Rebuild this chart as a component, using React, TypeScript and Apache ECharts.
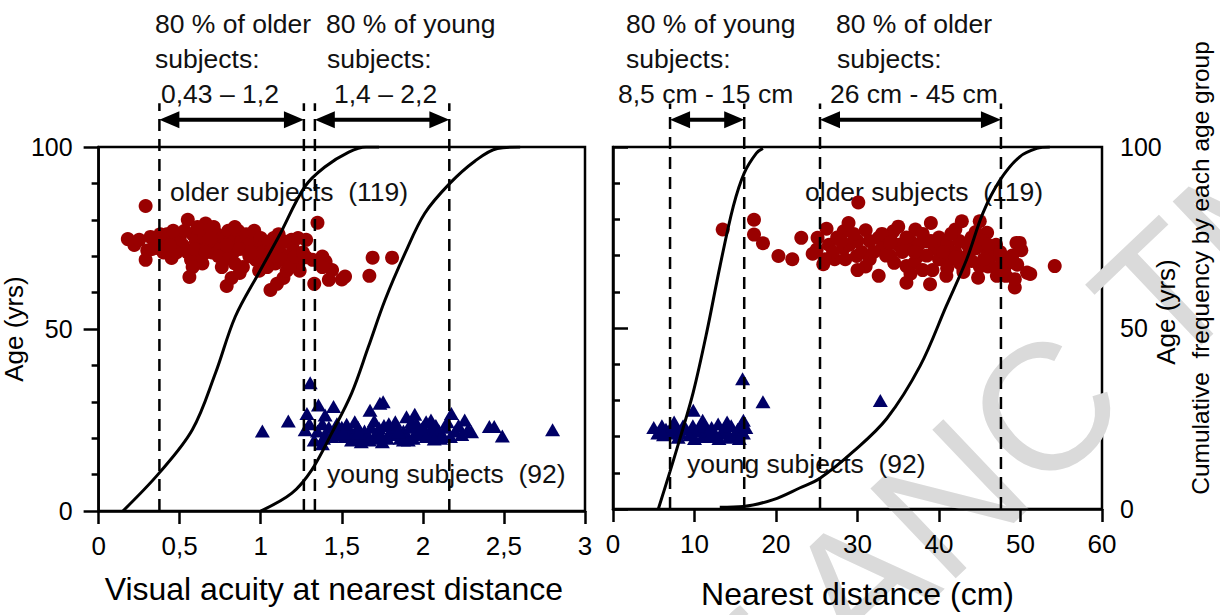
import React, { useEffect, useRef } from "react";
import * as echarts from "echarts";

// ---------- DATA ----------
// Left panel: visual acuity at nearest distance vs age
const olderVA: [number, number][] = [
  [0.29, 83.8], [0.18, 74.7], [0.22, 73.1], [0.25, 74.5], [0.32, 75.3], [0.29, 69], [0.3, 71.6], [0.37, 72.2],
  [0.43, 74], [0.45, 69.5], [0.5, 72.7], [0.55, 80], [0.66, 79], [0.56, 64.3], [0.79, 61.8], [0.82, 64],
  [0.87, 65.4], [1.06, 60.7], [1.1, 62.4], [1.14, 64], [1.33, 62.4], [1.42, 63.5], [1.52, 64.4], [1.5, 63.6],
  [1.67, 64.6], [1.69, 69.6], [1.81, 69.6], [1.35, 79.2], [1.19, 74.5], [1.28, 74.5], [1.28, 69.7], [1.32, 69],
  [1.38, 69.9], [1.4, 68.5], [1.44, 66.2], [1.38, 67],
  [0.5, 75], [0.52, 73], [0.55, 71], [0.58, 76], [0.6, 74], [0.62, 72], [0.63, 70], [0.65, 75], [0.67, 77],
  [0.68, 73], [0.7, 71], [0.72, 74], [0.73, 76], [0.75, 72], [0.77, 69], [0.78, 75], [0.8, 77], [0.82, 73],
  [0.83, 71], [0.85, 75], [0.86, 77], [0.88, 74], [0.9, 72], [0.91, 76], [0.93, 70], [0.95, 74], [0.96, 77],
  [0.98, 72], [1.0, 75], [1.02, 73], [1.03, 70], [1.05, 74], [1.07, 72], [1.09, 68], [1.1, 73], [1.12, 71],
  [1.15, 74], [1.17, 70], [1.2, 72], [1.22, 68], [1.24, 66], [0.4, 71], [0.42, 76], [0.47, 74], [0.48, 71],
  [0.57, 69], [0.61, 78], [0.64, 68], [0.71, 78], [0.74, 70], [0.76, 67], [0.81, 70], [0.84, 68], [0.89, 67],
  [0.92, 73], [0.97, 69], [0.99, 66], [1.01, 71], [1.04, 67], [1.08, 75], [1.13, 69], [1.16, 66], [1.18, 67],
  [1.21, 70], [1.26, 71], [0.35, 74], [0.38, 76], [0.44, 73], [0.53, 77], [0.59, 72], [0.69, 75], [0.79, 73],
  [0.87, 72], [0.94, 71], [1.06, 71], [1.11, 76], [0.33, 72], [0.58, 67], [0.66, 71], [0.46, 77], [0.84, 78],
  [1.23, 75]
];
const youngVA: [number, number][] = [
  [1.01, 22], [1.17, 24.7], [1.305, 35.2], [1.285, 26.8], [1.356, 29.1], [1.449, 28.7], [1.397, 26.4],
  [1.274, 22.3], [1.38, 24], [1.387, 20], [1.674, 27.7], [1.735, 29.6], [1.755, 30], [1.899, 25.9], [1.95, 26.6],
  [2.176, 26.8], [2.258, 25], [2.41, 23.2], [2.44, 23.2], [2.49, 20.6], [2.8, 22.3], [2.3, 21.8],
  [1.45, 22], [1.48, 21], [1.5, 23], [1.52, 20.5], [1.55, 22], [1.57, 21], [1.6, 23], [1.62, 20], [1.64, 22],
  [1.66, 21], [1.68, 23], [1.7, 20], [1.72, 22], [1.74, 21], [1.76, 23.5], [1.78, 20], [1.8, 22], [1.82, 21],
  [1.84, 23], [1.86, 20], [1.88, 22], [1.9, 21], [1.92, 23], [1.94, 20], [1.96, 22], [1.98, 21], [2.0, 23],
  [2.02, 20.5], [2.04, 22], [2.06, 21], [2.08, 23.5], [2.1, 22], [2.12, 21], [2.14, 23], [2.2, 22], [2.24, 21],
  [2.28, 22.5], [1.35, 22], [1.4, 21], [1.33, 19.5], [1.42, 23], [1.58, 24.5], [1.7, 24.8], [1.83, 24.5],
  [1.96, 24.2], [2.05, 25], [2.15, 24.5], [1.53, 23.8], [1.38, 18.5], [1.3, 24], [1.62, 19], [1.75, 19],
  [1.88, 19.5], [1.93, 24.5], [2.02, 24.5], [1.47, 24], [1.56, 19.5], [1.67, 19.5], [1.79, 24], [1.91, 19.5],
  [2.07, 19.8], [2.17, 20.5], [2.22, 23.5], [1.6, 21.5], [1.73, 22.8], [1.85, 21.8], [1.99, 22.5], [2.11, 20],
  [1.44, 20.5], [1.51, 21.5]
];
// Cumulative frequency curves (left panel)
const cumOlderVA: [number, number][] = [
  [0.15, 0], [0.373, 10.4], [0.578, 22.3], [0.721, 37.9], [0.842, 53.3], [0.988, 65.4], [1.111, 75.4],
  [1.272, 89.1], [1.395, 94.5], [1.543, 98.6], [1.65, 100], [1.73, 100]
];
const cumYoungVA: [number, number][] = [
  [1.0, 0], [1.192, 4.9], [1.315, 11.3], [1.438, 21.4], [1.561, 32.4], [1.664, 45.1], [1.766, 57.9],
  [1.889, 70.7], [2.012, 81.8], [2.166, 90.0], [2.32, 96.1], [2.46, 99.6], [2.6, 100]
];
const dashVA = [0.375, 1.266, 1.334, 2.163];
const arrowsVA: [number, number][] = [[0.375, 1.266], [1.334, 2.163]];

// Right panel: nearest distance vs age
const olderND: [number, number][] = [
  [13.46, 77.2], [17.3, 79.9], [17.3, 75.8], [18.4, 73.4], [20.3, 69.9], [22.0, 69.0], [23.1, 74.9], [30.1, 84.7],
  [25.1, 74.9], [26.2, 77.4], [25, 71.7], [25.8, 67.6], [27.2, 69], [28.3, 76.7], [28.9, 79], [28.3, 72],
  [29.9, 69.9], [31.0, 77], [32.6, 74.9], [32.6, 64.4], [34.4, 76.7], [35, 73], [34, 70], [36.0, 67.1],
  [36.0, 62.5], [37.1, 77.2], [37.5, 70], [38.5, 74], [38.9, 62.1], [39.2, 66], [40.7, 71.7], [41.3, 69],
  [40.9, 64.4], [42.0, 77.2], [42.8, 79.5], [43.0, 66.2], [43.8, 73.5], [45.0, 79.5], [44.8, 63.9], [45.9, 76.3],
  [46, 71], [46, 67], [47.1, 64.4], [47.7, 69], [48.2, 64.4], [49.3, 61.2], [49.5, 73.5], [49.9, 73.5],
  [50.1, 71.5], [49.6, 67.5], [50.8, 65.3], [51.2, 64.9], [54.2, 67.1], [49.3, 63.5],
  [26.5, 73], [27.5, 75], [29, 73], [30.5, 71], [31.5, 74], [33, 72], [34, 75], [35.5, 71], [36.5, 74],
  [37.5, 73], [38, 76], [39.5, 72], [40, 75], [41, 73], [42, 71], [42.5, 74], [43.5, 70], [44, 75], [44.5, 72],
  [45.5, 74], [46.5, 70], [47, 73], [27, 71], [28.5, 69], [30, 74], [31.5, 69], [33, 76], [34.5, 68], [36, 72],
  [37, 68], [38.5, 70], [39, 74], [40, 69], [41.5, 76], [42.5, 68], [43.5, 73], [45, 67], [46, 73], [47.5, 71],
  [48, 66], [32, 71], [35, 78], [39, 79], [36.5, 65], [43, 65.5], [29.5, 76], [33.5, 70], [44, 68.5], [47, 66.5],
  [49, 70], [26, 69], [24.5, 70.5], [31, 67], [38, 66], [41, 66.5], [45.5, 69], [34, 73.5], [40.5, 71],
  [28, 74], [36, 75], [42, 69.5], [48.5, 68], [30, 66], [37, 71], [44.5, 76.5]
];
const youngND: [number, number][] = [
  [15.9, 36], [18.4, 29.6], [32.8, 30], [9.85, 27.3],
  [5, 22.5], [5.5, 21], [6, 23], [6.5, 22], [7, 21], [7.3, 23], [7.8, 22], [8.2, 21], [8.6, 23], [9, 22],
  [9.4, 20.5], [9.8, 23], [10.2, 21.5], [10.6, 22.5], [11, 20], [11.3, 23], [11.7, 21.5], [12.1, 22.5],
  [12.5, 20], [12.9, 23.5], [13.3, 21], [13.7, 22.5], [14.1, 21], [14.5, 23], [14.9, 20.5], [15.3, 22],
  [15.7, 23], [16, 21], [16.3, 22.5], [6.2, 20.5], [8, 19.8], [10, 19.5], [12, 20.5], [13, 19.5], [14.2, 19.8],
  [15.5, 19.5], [11, 24.5], [14, 24], [16, 24.5], [7.5, 24]
];
const cumYoungND: [number, number][] = [
  [5.56, 0], [7.0, 10.4], [8.22, 19.5], [9.85, 32.3], [11.5, 48.8], [13.13, 67.1], [14.76, 83.6],
  [16.1, 92.8], [17.6, 98.3], [18.4, 99.6]
];
const cumOlderND: [number, number][] = [
  [13.1, 0.5], [16.0, 0.7], [19.67, 2.6], [22.9, 5.8], [25.4, 8.5], [29.5, 15.9], [33.6, 25], [37.7, 39.6],
  [40.9, 56.1], [43.4, 69], [45.4, 81.8], [47.5, 90.9], [49.9, 97.3], [52.0, 99.6], [53.6, 100]
];
const dashND = [7.0, 16.1, 25.4, 47.6];
const arrowsND: [number, number][] = [[7.0, 16.1], [25.4, 47.6]];

const xTicksVA = ["0", "0,5", "1", "1,5", "2", "2,5", "3"];
const xTicksND = ["0", "10", "20", "30", "40", "50", "60"];
const yTicks = ["0", "50", "100"];

const dashTop = 112;
const arrowY = 107.5;

const FONT = "'Liberation Sans', Arial, Helvetica, sans-serif";
const RED = "#990000";
const BLUE = "#000066";

export default function App() {
  const ref = useRef<HTMLDivElement>(null);
  useEffect(() => {
    if (!ref.current) return;
    const chart = echarts.init(ref.current, undefined, { renderer: "svg" });

    const gridW = 489;
    const headLen = 20;
    const headW = 17;
    const pxPerVA = gridW / 3;
    const pxPerND = gridW / 60;

    const axisLine = { show: true, lineStyle: { color: "#000", width: 2.5 } };
    const xAxisCommon = (gi: number, max: number, interval: number, labels: string[], name: string, gap: number, pad: number[]) => ({
      type: "value",
      gridIndex: gi,
      min: 0,
      max,
      interval,
      name,
      nameLocation: "middle",
      nameGap: gap,
      nameTextStyle: { fontSize: 32, fontFamily: FONT, color: "#000", padding: pad },
      axisLine,
      axisTick: { show: true, inside: false, length: 13, lineStyle: { color: "#000", width: 2.5 } },
      axisLabel: {
        fontSize: 26,
        fontFamily: FONT,
        color: "#000",
        margin: 22,
        formatter: (v: number) => labels[Math.round(v / interval)] ?? "",
      },
      splitLine: { show: false },
    });
    const yAxisCommon = (gi: number, position: string, name: string, gap: number, margin: number) => ({
      type: "value",
      gridIndex: gi,
      position,
      min: 0,
      max: 100,
      interval: 50,
      name,
      nameLocation: "middle",
      nameGap: gap,
      nameRotate: 90,
      nameTextStyle: { fontSize: 26, fontFamily: FONT, color: "#000" },
      axisLine,
      axisTick: { show: true, inside: false, length: 15, lineStyle: { color: "#000", width: 2.5 } },
      minorTick: { show: true, splitNumber: 5, length: 7, lineStyle: { color: "#000", width: 2.5 } },
      axisLabel: {
        fontSize: 25,
        fontFamily: FONT,
        color: "#000",
        margin,
        formatter: (v: number) => yTicks[Math.round(v / 50)] ?? "",
      },
      splitLine: { show: false },
      minorSplitLine: { show: false },
    });

    const dashSeries = (vals: number[], xi: number) =>
      vals.map((v) => ({
        type: "line",
        xAxisIndex: xi,
        yAxisIndex: xi,
        data: [[v, 0], [v, dashTop]],
        symbol: "none",
        clip: false,
        silent: true,
        z: 4,
        lineStyle: { color: "#000", width: 2.5, type: [12, 8] },
      }));

    // arrow shafts (line) + heads (rotated triangles) in data coordinates
    const arrowSeries = (pairs: [number, number][], xi: number, pxPerUnit: number) => {
      const half = headLen / 2 / pxPerUnit;
      const shafts = pairs.map(([a, b]) => ({
        type: "line",
        xAxisIndex: xi,
        yAxisIndex: xi,
        data: [[a + half, arrowY], [b - half, arrowY]],
        symbol: "none",
        clip: false,
        silent: true,
        z: 5,
        lineStyle: { color: "#000", width: 4 },
      }));
      const heads = {
        type: "scatter",
        xAxisIndex: xi,
        yAxisIndex: xi,
        clip: false,
        silent: true,
        z: 6,
        symbol: "triangle",
        symbolSize: [headW, headLen],
        itemStyle: { color: "#000", opacity: 1 },
        data: pairs.flatMap(([a, b]) => [
          { value: [a + half, arrowY], symbolRotate: 90 },
          { value: [b - half, arrowY], symbolRotate: -90 },
        ]),
      };
      return [...shafts, heads];
    };

    const curve = (data: [number, number][], xi: number) => ({
      type: "line",
      xAxisIndex: xi,
      yAxisIndex: xi,
      data,
      smooth: 0.35,
      symbol: "none",
      silent: true,
      z: 4,
      lineStyle: { color: "#000", width: 3 },
    });

    const scatter = (data: [number, number][], xi: number, kind: "circle" | "triangle") => ({
      type: "scatter",
      xAxisIndex: xi,
      yAxisIndex: xi,
      data,
      symbol: kind,
      symbolSize: kind === "circle" ? 14 : [15, 13],
      silent: true,
      z: 3,
      itemStyle: { color: kind === "circle" ? RED : BLUE, opacity: 1 },
    });

    const txt = (text: string, x: number, y: number, size = 26.5, color = "#111") => ({
      type: "text",
      x,
      y,
      z: 1,
      silent: true,
      style: {
        text,
        fill: color,
        fontSize: size,
        fontFamily: FONT,
        textAlign: "left",
        textVerticalAlign: "middle",
        align: "left",
        verticalAlign: "middle",
      },
    });

    const vtxt = (text: string, x: number, y: number, size: number) => ({
      type: "text",
      x,
      y,
      rotation: Math.PI / 2,
      z: 1,
      silent: true,
      style: {
        text,
        fill: "#000",
        fontSize: size,
        fontFamily: FONT,
        textAlign: "center",
        textVerticalAlign: "middle",
        align: "center",
        verticalAlign: "middle",
      },
    });

    chart.setOption({
      animation: false,
      backgroundColor: "#fff",
      grid: [
        { left: 96, top: 147, width: gridW, height: 364, show: true, borderColor: "#000", borderWidth: 2.5, backgroundColor: "transparent" },
        { left: 613, top: 147, width: gridW, height: 364, show: true, borderColor: "#000", borderWidth: 2.5, backgroundColor: "transparent" },
      ],
      xAxis: [
        xAxisCommon(0, 3, 0.5, xTicksVA, "Visual acuity at nearest distance", 62, [0, 16, 0, 0]),
        xAxisCommon(1, 60, 10, xTicksND, "Nearest distance (cm)", 69, [0, 0, 0, 0]),
      ],
      yAxis: [
        yAxisCommon(0, "left", "Age (yrs)", 67, 26),
        yAxisCommon(1, "right", "", 64, 18),
      ],
      graphic: [
        {
          type: "text",
          x: 995,
          y: 455,
          rotation: 0.76,
          z: 0,
          silent: true,
          style: {
            text: "of ANC TM",
            fill: "#dadada",
            fontSize: 180,
            fontFamily: FONT,
            textAlign: "center",
            textVerticalAlign: "middle",
            align: "center",
            verticalAlign: "middle",
          },
        },
        txt("80 % of older", 155, 24),
        txt("subjects:", 155, 59),
        txt("0,43 – 1,2", 161, 94),
        txt("80 % of young", 326, 24),
        txt("subjects:", 327, 59),
        txt("1,4 – 2,2", 334, 94),
        txt("80 % of young", 626, 24),
        txt("subjects:", 626, 59),
        txt("8,5 cm - 15 cm", 618, 94),
        txt("80 % of older", 836, 24),
        txt("subjects:", 837, 59),
        txt("26 cm - 45 cm", 830, 94),
        txt("older subjects  (119)", 170, 192),
        txt("young subjects  (92)", 327, 474),
        txt("older subjects  (119)", 805, 192),
        txt("young subjects  (92)", 687, 464),
        vtxt("Age (yrs)", 1166, 312, 26),
        vtxt("Cumulative  frequency by each age group", 1200, 268, 24.5),
      ],
      series: [
        scatter(olderVA, 0, "circle"),
        scatter(youngVA, 0, "triangle"),
        scatter(olderND, 1, "circle"),
        scatter(youngND, 1, "triangle"),
        curve(cumOlderVA, 0),
        curve(cumYoungVA, 0),
        curve(cumYoungND, 1),
        curve(cumOlderND, 1),
        ...dashSeries(dashVA, 0),
        ...dashSeries(dashND, 1),
        ...arrowSeries(arrowsVA, 0, pxPerVA),
        ...arrowSeries(arrowsND, 1, pxPerND),
      ],
    });
    return () => chart.dispose();
  }, []);
  return (
    <div
      ref={ref}
      style={{ position: "absolute", left: 0, top: 0, width: 1220, height: 615 }}
    />
  );
}
